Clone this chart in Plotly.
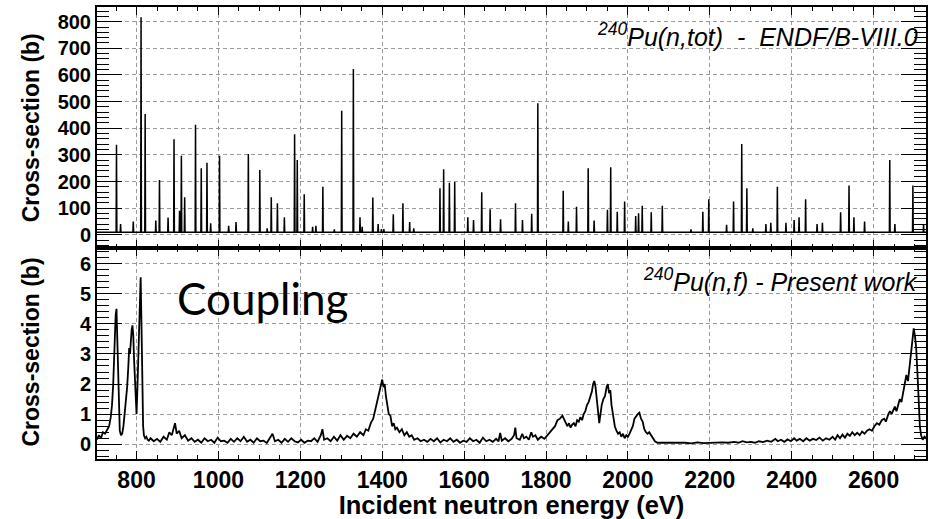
import plotly.graph_objects as go

# ---------------- data ----------------
# Top panel: 240Pu(n,tot) ENDF/B-VIII.0 resonances (energy eV, peak barn)
res_energy = [751, 761, 792, 811, 821, 847, 856, 877, 891.5, 905, 909.5, 917.5,
              944, 958, 972, 981, 1002.7, 1025, 1043, 1073, 1101, 1119, 1129, 1144,
              1161, 1186, 1192.5, 1209.5, 1230, 1238, 1255, 1283, 1301, 1329.5,
              1345.7, 1351, 1377, 1390, 1398, 1404, 1427, 1450.5, 1467, 1477,
              1541, 1550, 1564, 1577, 1609, 1623, 1643, 1663.5, 1689, 1725.5,
              1742.5, 1765, 1780, 1842, 1854.5, 1874.5, 1903, 1917.5, 1950, 1958,
              1974, 1992, 2019, 2026, 2035, 2057, 2084, 2154, 2183, 2197.5, 2241,
              2258, 2278, 2290.5, 2305, 2337, 2349, 2365, 2386, 2406, 2418, 2434,
              2462, 2475, 2519.5, 2540, 2552, 2578, 2639.5, 2652, 2696, 2722]
res_peak = [338, 41, 50, 817, 454, 54, 206, 65, 359, 91, 297, 141,
            413, 250, 271, 44, 297, 34, 48, 304, 244, 25, 141, 119,
            66, 378, 281, 153, 31, 34, 181, 21, 466, 622,
            66, 31, 140, 41, 22, 22, 78, 119, 48, 25,
            175, 246, 196, 199, 66, 56, 160, 96, 59, 119,
            56, 79, 494, 166, 50, 106, 250, 54, 94, 254,
            87, 125, 71, 81, 109, 85, 109, 21, 87, 134, 38,
            125, 341, 175, 25, 41, 46, 181, 46, 56, 66, 134,
            41, 46, 85, 185, 66, 50, 281, 41, 185, 38]
tot_baseline = 10.0

# Bottom panel: 240Pu(n,f) present work (energy eV, cross-section barn)
fis_energy = [703, 708, 713, 718, 723, 728, 733, 737, 740, 743, 745, 747, 749, 751, 753,
              755, 757, 759, 762, 765, 768, 771, 774, 777, 780, 782, 784, 786, 788, 790,
              792, 794, 796, 798, 800, 802, 804, 806, 808, 810, 812, 814, 816, 818, 821,
              824, 827, 830,
              834, 842, 850, 858, 866, 874, 880, 886, 890, 894, 898, 904, 910, 918, 926,
              934, 942, 950, 958, 966, 974, 982, 990, 998, 1006, 1014, 1022, 1030, 1038,
              1046, 1054, 1062, 1070, 1078, 1086, 1094, 1102, 1110, 1118, 1126, 1132,
              1138, 1146, 1154, 1162, 1170, 1178, 1186, 1194, 1202, 1210, 1218, 1226,
              1234, 1242, 1250, 1254, 1258, 1266, 1274, 1282, 1290, 1298, 1306, 1314,
              1322, 1330, 1338, 1346, 1354, 1360, 1366, 1372, 1378, 1384, 1388, 1392,
              1396, 1400, 1403, 1406, 1409, 1412, 1416, 1420, 1424, 1428, 1432, 1436,
              1442, 1448, 1454, 1460, 1466, 1472, 1478, 1486, 1494, 1502,
              1510, 1518, 1526, 1534, 1542, 1550, 1558, 1566, 1574, 1582, 1590, 1598,
              1606, 1614, 1622, 1630, 1638, 1646, 1654, 1662, 1670, 1678, 1684, 1688,
              1692, 1700, 1708, 1716, 1722, 1725, 1728, 1736, 1742, 1746, 1752, 1758,
              1764, 1768, 1774, 1780, 1788, 1796, 1804, 1810, 1816, 1822, 1828, 1834,
              1840, 1844, 1848, 1852, 1856, 1860, 1864, 1868, 1872, 1876, 1880, 1884,
              1888, 1892, 1896, 1900, 1904, 1908, 1912, 1915, 1918, 1921, 1924, 1927,
              1930, 1933, 1936, 1940, 1944, 1948, 1951, 1954, 1957, 1960, 1964, 1968,
              1972, 1976, 1980, 1984, 1988, 1992, 1996, 2000, 2004, 2008, 2012, 2016,
              2020, 2024, 2028, 2032, 2036, 2040, 2044, 2048, 2052, 2056, 2060, 2066,
              2072,
              2080, 2095, 2110, 2125, 2140, 2155, 2170, 2185, 2200, 2215, 2230, 2245,
              2260, 2270, 2280, 2290, 2300, 2310, 2320, 2330, 2340, 2350, 2360, 2366,
              2374, 2382, 2390, 2398, 2406, 2412, 2420, 2428, 2436, 2444, 2452, 2460,
              2468, 2476, 2484, 2492, 2500, 2506, 2512, 2518, 2524, 2530, 2536, 2542,
              2548, 2554, 2560, 2566, 2572, 2578, 2584, 2590, 2596, 2602, 2608, 2614,
              2620, 2626, 2630, 2636, 2640, 2644, 2648, 2652, 2656, 2660, 2664, 2668,
              2672, 2676, 2680, 2684, 2688, 2692, 2695, 2698, 2701, 2704, 2707, 2710,
              2713, 2716, 2720, 2724, 2728, 2732, 2736]
fis_xs = [0.15, 0.3, 0.2, 0.4, 0.35, 0.5, 0.6, 0.9, 1.3, 2.0, 2.9, 3.8, 4.3, 4.5, 3.6,
          2.2, 1.0, 0.45, 0.3, 0.35, 0.6, 1.0, 1.5, 1.9, 2.6, 3.2, 3.0, 3.5, 3.8, 3.95,
          3.6, 2.8, 2.0, 1.2, 1.0, 1.8, 3.0, 4.0, 4.9, 5.55, 4.0, 1.6, 0.6, 0.3, 0.2,
          0.25, 0.15, 0.12,
          0.2, 0.1, 0.18, 0.08, 0.25, 0.15, 0.4, 0.3, 0.55, 0.7, 0.35, 0.45, 0.2, 0.3, 0.12,
          0.2, 0.08, 0.15, 0.05, 0.2, 0.1, 0.15, 0.05, 0.22, 0.1, 0.12, 0.05, 0.18, 0.08,
          0.2, 0.1, 0.25, 0.08, 0.15, 0.05, 0.2, 0.1, 0.12, 0.04, 0.2, 0.35,
          0.1, 0.15, 0.05, 0.18, 0.08, 0.2, 0.1, 0.06, 0.15, 0.05, 0.12, 0.1,
          0.2, 0.08, 0.3, 0.5, 0.15, 0.2, 0.1, 0.25, 0.12, 0.3, 0.15, 0.28,
          0.2, 0.35, 0.25, 0.4, 0.3, 0.5, 0.45, 0.7, 0.85, 1.2, 1.5, 1.7,
          1.9, 2.15, 1.9, 2.0, 1.6, 1.3, 1.0, 0.95, 0.6, 0.7, 0.5, 0.55,
          0.4, 0.5, 0.3, 0.4, 0.25, 0.3, 0.15, 0.2, 0.1, 0.15,
          0.08, 0.18, 0.1, 0.2, 0.06, 0.15, 0.1, 0.2, 0.08, 0.15, 0.05, 0.12,
          0.08, 0.2, 0.1, 0.15, 0.05, 0.22, 0.1, 0.15, 0.08, 0.18, 0.1, 0.38,
          0.12, 0.2, 0.1, 0.18, 0.3, 0.55, 0.2, 0.15, 0.35, 0.2, 0.25, 0.15,
          0.4, 0.25, 0.3, 0.15, 0.25, 0.18, 0.3, 0.4, 0.5, 0.6, 0.8, 0.85,
          0.95, 0.85, 0.7, 0.6, 0.7, 0.55, 0.65, 0.7, 0.6, 0.8, 0.75, 0.9,
          0.8, 1.0, 1.1, 1.3, 1.4, 1.6, 1.75, 2.0, 2.1, 1.9, 1.5, 0.9,
          0.7, 1.0, 1.3, 1.5, 1.6, 1.9, 2.0, 1.7, 1.8, 1.3, 0.95, 0.6,
          0.45, 0.35, 0.4, 0.25, 0.35, 0.2, 0.3, 0.25, 0.35, 0.45, 0.6, 0.85,
          0.95, 1.0, 1.05, 0.85, 0.75, 0.5, 0.4, 0.35, 0.4, 0.3, 0.2, 0.1,
          0.05,
          0.05, 0.04, 0.06, 0.04, 0.05, 0.03, 0.06, 0.04, 0.05, 0.04, 0.06, 0.05,
          0.08, 0.05, 0.1, 0.06, 0.08, 0.05, 0.1, 0.07, 0.12, 0.08, 0.18, 0.1,
          0.15, 0.08, 0.16, 0.1, 0.2, 0.12, 0.18, 0.1, 0.2, 0.12, 0.18, 0.14,
          0.22, 0.12, 0.2, 0.15, 0.25, 0.15, 0.3, 0.2, 0.32, 0.22, 0.35, 0.28,
          0.4, 0.3, 0.38, 0.3, 0.42, 0.35, 0.45, 0.5, 0.45, 0.6, 0.7, 0.65,
          0.8, 0.85, 0.75, 1.0, 1.1, 1.0, 1.15, 1.25, 1.1, 1.35, 1.5, 1.4,
          1.7, 2.1, 2.3, 2.1, 2.6, 3.2, 3.6, 3.85, 3.6, 3.2, 2.4, 1.5,
          0.6, 0.3, 0.15, 0.25, 0.2, 0.35, 0.3]

x_tickvals = [800, 1000, 1200, 1400, 1600, 1800, 2000, 2200, 2400, 2600]
top_tickvals = [0, 100, 200, 300, 400, 500, 600, 700, 800]
bot_tickvals = [0, 1, 2, 3, 4, 5, 6]

# ---------------- build spike line for total cross-section ----------------
half_w = 0.9
tot_x = [703.0]
tot_y = [tot_baseline]
for e, p in zip(res_energy, res_peak):
    tot_x += [e - half_w, e, e + half_w]
    tot_y += [tot_baseline, p, tot_baseline]
tot_x.append(2736.0)
tot_y.append(tot_baseline)

fig = go.Figure()
fig.add_trace(go.Scatter(x=tot_x, y=tot_y, mode="lines", xaxis="x", yaxis="y",
                         line=dict(color="black", width=1.5), showlegend=False))
fig.add_trace(go.Scatter(x=fis_energy, y=fis_xs, mode="lines", xaxis="x2", yaxis="y2",
                         line=dict(color="black", width=1.8), showlegend=False))

XR = [703.4, 2728]
bold = dict(family="Liberation Sans, Arial, sans-serif", size=20, color="black", weight="bold")
xbold = dict(family="Liberation Sans, Arial, sans-serif", size=23, color="black", weight="bold")
grid = dict(showgrid=True, gridcolor="#9a9a9a", gridwidth=1, griddash="4px,3px")

def xax(domain_anchor, show_labels, minor_len):
    d = dict(range=XR, domain=[0, 1], anchor=domain_anchor, tickvals=x_tickvals,
             ticks="inside", ticklen=8, tickwidth=1, tickcolor="black",
             showline=True, linecolor="black", linewidth=1.6, mirror="allticks",
             minor=dict(dtick=50, tick0=700, ticks="inside", ticklen=minor_len,
                        tickcolor="black", showgrid=False),
             showticklabels=show_labels, tickfont=xbold, zeroline=False, **grid)
    return d

fig.update_layout(
    width=933, height=519,
    margin=dict(l=97, r=5, t=7, b=60),
    paper_bgcolor="white", plot_bgcolor="white",
    xaxis=xax("y", False, 4),
    xaxis2=dict(xax("y2", True, 4), matches="x",
                title=dict(text="Incident neutron energy (eV)", font=dict(xbold, size=25.5),
                           standoff=0)),
    yaxis=dict(range=[-49, 855], domain=[0.4668, 1], anchor="x", tickvals=top_tickvals,
               ticks="inside", ticklen=25, tickwidth=1, tickcolor="black",
               showline=True, linecolor="black", linewidth=2, mirror="allticks",
               minor=dict(dtick=20, tick0=0, ticks="inside", ticklen=12, tickcolor="black",
                          showgrid=False),
               tickfont=bold, zeroline=False, **grid),
    yaxis2=dict(range=[-0.49, 6.52], domain=[0, 0.4668], anchor="x2", tickvals=bot_tickvals,
                ticks="inside", ticklen=25, tickwidth=1, tickcolor="black",
                showline=True, linecolor="black", linewidth=2, mirror="allticks",
                minor=dict(dtick=0.2, tick0=0, ticks="inside", ticklen=12, tickcolor="black",
                           showgrid=False),
                tickfont=bold, zeroline=False, **grid),
)

ytitle_font = dict(family="Liberation Sans, Arial, sans-serif", size=23, color="black", weight="bold")
fig.add_annotation(text="Cross-section (b)", xref="paper", yref="paper", x=-0.08, y=0.733,
                   textangle=-90, showarrow=False, font=ytitle_font, xanchor="center", yanchor="middle")
fig.add_annotation(text="Cross-section (b)", xref="paper", yref="paper", x=-0.08, y=0.237,
                   textangle=-90, showarrow=False, font=ytitle_font, xanchor="center", yanchor="middle")

ital = dict(family="Liberation Sans, Arial, sans-serif", size=25, color="black", style="italic")
fig.add_annotation(text="<sup>240</sup>Pu(n,tot)  -  ENDF/B-VIII.0", xref="paper", yref="paper",
                   x=0.993, y=0.937, xanchor="right", yanchor="middle", showarrow=False, font=ital)
fig.add_annotation(text="<sup>240</sup>Pu(n,f) - Present work", xref="paper", yref="paper",
                   x=0.993, y=0.397, xanchor="right", yanchor="middle", showarrow=False, font=ital)
fig.add_annotation(text="Coupling", xref="paper", yref="paper", x=0.2, y=0.357,
                   xanchor="center", yanchor="middle", showarrow=False,
                   font=dict(family="Lato, Noto Sans, sans-serif", size=44, color="black"))

fig.write_html("out.html", config={"displayModeBar": False},
               post_script="document.body.style.margin='0px';")
